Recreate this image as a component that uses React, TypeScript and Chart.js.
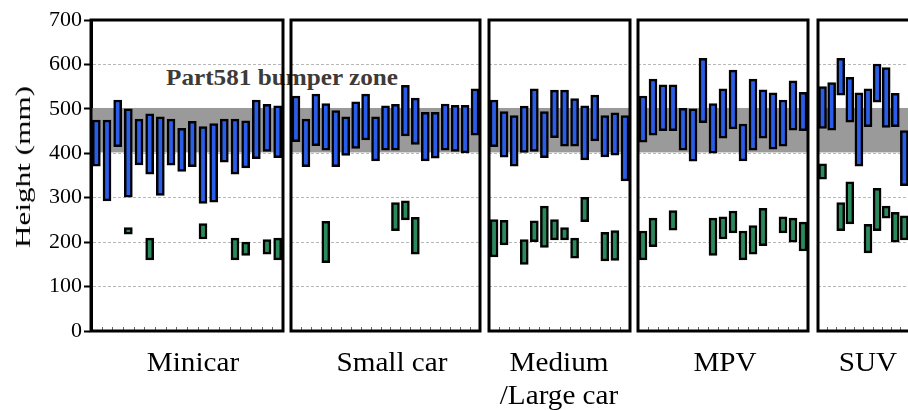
import React, { useEffect, useRef } from "react";
import { Chart, registerables } from "chart.js";

Chart.register(...registerables);

type Span = [number, number] | null;

// Vertical scale (mm)
const yMin = 0;
const yMax = 700;
const yStep = 100;

// Part 581 bumper zone band (mm)
const zoneLow = 402;
const zoneHigh = 502;
const zoneLabel = "Part581 bumper zone";
const yTitle = "Height (mm)";

// Vehicle classes
const groupNames: string[][] = [["Minicar"], ["Small car"], ["Medium", "/Large car"], ["MPV"], ["SUV"]];

// Upper (main) bumper beam spans, [bottom, top] in mm
const minicarUpper: Span[] = [
  [371, 475], [293, 475], [415, 520], [301, 500], [374, 477], [353, 489], [305, 482], [373, 477], [359, 456],
  [370, 472], [287, 460], [290, 467], [380, 477], [353, 477], [367, 473], [388, 520], [404, 510], [390, 507],
];
const smallUpper: Span[] = [
  [426, 529], [370, 477], [417, 533], [407, 512], [370, 496], [395, 482], [411, 516], [430, 533], [383, 482],
  [407, 507], [407, 510], [439, 553], [420, 524], [383, 492], [389, 492], [407, 511], [404, 508], [401, 508],
  [441, 545],
];
const mediumUpper: Span[] = [
  [415, 520], [391, 494], [371, 485], [402, 506], [404, 545], [390, 494], [435, 542], [416, 542], [416, 523],
  [385, 507], [428, 531], [392, 485], [396, 491], [338, 485],
];
const mpvUpper: Span[] = [
  [425, 529], [441, 567], [451, 554], [451, 554], [407, 501], [382, 500], [469, 614], [400, 512], [434, 545],
  [455, 587], [383, 466], [407, 567], [434, 543], [409, 536], [416, 520], [452, 563], [451, 537],
];
const suvUpper: Span[] = [
  [456, 550], [452, 559], [531, 614], [470, 571], [371, 536], [460, 545], [515, 601], [458, 593], [460, 535],
  [327, 451], null,
];

// Lower (secondary) structure spans, [bottom, top] in mm
const minicarLower: Span[] = [
  null, null, null, [218, 233], null, [160, 209], null, null, null,
  null, [207, 242], null, null, [160, 209], [170, 200], null, [173, 206], [160, 209],
];
const smallLower: Span[] = [
  null, null, null, [154, 247], null, null, null, null, null,
  null, [226, 289], [250, 293], [173, 256], null, null, null, null, null,
  null,
];
const mediumLower: Span[] = [
  [167, 251], [194, 249], null, [150, 206], [201, 248], [188, 281], [205, 251], [205, 233], [164, 209],
  [246, 301], null, [158, 222], [159, 226], null,
];
const mpvLower: Span[] = [
  [160, 225], [190, 254], null, [227, 271], null, null, null, [170, 254], [207, 257],
  [221, 270], [160, 225], [173, 237], [192, 276], null, [221, 257], [200, 254], [180, 245],
];
const suvLower: Span[] = [
  [342, 376], null, [226, 289], [241, 336], null, [176, 240], [226, 321], [254, 281], [200, 267],
  [205, 259], null,
];

const upperSets = [minicarUpper, smallUpper, mediumUpper, mpvUpper, suvUpper];
const lowerSets = [minicarLower, smallLower, mediumLower, mpvLower, suvLower];

// Panel geometry on the page (plot-area edges, px)
const panelLeft = [91, 291, 489, 638, 818];
const panelRight = [283, 480, 630, 808, 918];
const labelCenter = [193, 392, 559, 725, 868];

const CANVAS_H = 350;
const PLOT_TOP = 20;
const PLOT_BOTTOM = 331;
const SIDE_PAD = 3;

const BLUE = "#2a5de8";
const GREEN = "#2b8a5c";
const SERIF = '"Liberation Serif", "Times New Roman", serif';

// Grey zone band under the bars, then panel frame and inner tick marks on top
const panelFrame = {
  id: "panelFrame",
  beforeDatasetsDraw(chart: any) {
    const { ctx, chartArea: a, scales } = chart;
    const y = scales.y;
    const top = y.getPixelForValue(zoneHigh);
    const bottom = y.getPixelForValue(zoneLow);
    ctx.save();
    ctx.fillStyle = "#9a9a9a";
    ctx.fillRect(a.left, top, a.right - a.left, bottom - top);
    ctx.restore();
  },
  afterDatasetsDraw(chart: any) {
    const { ctx, chartArea: a, scales } = chart;
    const x = scales.x;
    const n = chart.data.labels.length;
    ctx.save();
    ctx.strokeStyle = "#666";
    ctx.lineWidth = 1;
    for (let k = 1; k < n; k++) {
      const px = Math.round((x.getPixelForValue(k - 1) + x.getPixelForValue(k)) / 2) + 0.5;
      ctx.beginPath();
      ctx.moveTo(px, a.bottom);
      ctx.lineTo(px, a.bottom - 4);
      ctx.stroke();
    }
    ctx.lineWidth = 3;
    ctx.strokeStyle = "#000";
    ctx.strokeRect(a.left, a.top, a.right - a.left, a.bottom - a.top);
    ctx.restore();
  },
};

function Panel({ index }: { index: number }) {
  const ref = useRef<HTMLCanvasElement>(null);
  const withAxis = index === 0;
  const left = withAxis ? 0 : panelLeft[index] - SIDE_PAD;
  const width = panelRight[index] + SIDE_PAD - left;

  useEffect(() => {
    const canvas = ref.current;
    if (!canvas) return;
    const upper = upperSets[index];
    const lower = lowerSets[index];
    const labels = upper.map((_, k) => String(k + 1));
    const barStyle = {
      borderColor: "#000",
      borderWidth: 2.5,
      borderSkipped: false,
      barThickness: 8,
      grouped: false,
    };
    const chart = new Chart(canvas, {
      type: "bar",
      data: {
        labels,
        datasets: [
          { data: upper as any, backgroundColor: BLUE, ...barStyle },
          { data: lower as any, backgroundColor: GREEN, ...barStyle },
        ],
      },
      options: {
        responsive: false,
        animation: false,
        layout: {
          padding: {
            left: withAxis ? 0 : SIDE_PAD,
            right: SIDE_PAD,
            top: PLOT_TOP,
            bottom: CANVAS_H - PLOT_BOTTOM,
          },
        },
        plugins: { legend: { display: false }, tooltip: { enabled: false } },
        scales: {
          x: { display: false },
          y: {
            min: yMin,
            max: yMax,
            ticks: {
              stepSize: yStep,
              display: withAxis,
              color: "#000",
              padding: 2,
              font: { family: SERIF, size: 22 },
            },
            grid: {
              drawTicks: withAxis,
              tickLength: 7,
              tickWidth: 2,
              tickColor: "#000",
              lineWidth: 1,
              color: (c: any) => (c.tick && (c.tick.value === yMin || c.tick.value === yMax) ? "rgba(0,0,0,0)" : "#b8b8b8"),
            },
            border: { display: withAxis, width: 3, color: "#000", dash: [3, 2] },
            afterFit: (s: any) => {
              s.width = withAxis ? panelLeft[0] : 0;
            },
          },
        },
      } as any,
      plugins: [panelFrame],
    });
    return () => chart.destroy();
  }, [index]);

  return (
    <canvas
      ref={ref}
      width={width}
      height={CANVAS_H}
      style={{ position: "absolute", left, top: 0, width, height: CANVAS_H }}
    />
  );
}

export default function App() {
  return (
    <div
      style={{
        position: "fixed",
        left: 0,
        top: 0,
        width: 908,
        height: 410,
        overflow: "hidden",
        background: "#fff",
      }}
    >
      <div
        style={{
          position: "absolute",
          left: 282,
          top: 65,
          transform: "translateX(-50%) scaleX(1.05)",
          font: `bold 24px ${SERIF}`,
          lineHeight: "24px",
          color: "#3d3a37",
          whiteSpace: "nowrap",
        }}
      >
        {zoneLabel}
      </div>
      {groupNames.map((_, i) => (
        <Panel key={i} index={i} />
      ))}
      <div
        style={{
          position: "absolute",
          left: 23,
          top: 167,
          transform: "translate(-50%, -50%) rotate(-90deg) scaleX(1.42)",
          font: `22px ${SERIF}`,
          lineHeight: "22px",
          color: "#000",
          whiteSpace: "nowrap",
        }}
      >
        {yTitle}
      </div>
      {groupNames.map((lines, i) => (
        <div
          key={i}
          style={{
            position: "absolute",
            left: labelCenter[i],
            top: 346,
            transform: "translateX(-50%) scaleX(1.08)",
            font: `27px ${SERIF}`,
            lineHeight: "33px",
            color: "#000",
            textAlign: "center",
            whiteSpace: "nowrap",
          }}
        >
          {lines.map((t, k) => (
            <div key={k}>{t}</div>
          ))}
        </div>
      ))}
    </div>
  );
}
